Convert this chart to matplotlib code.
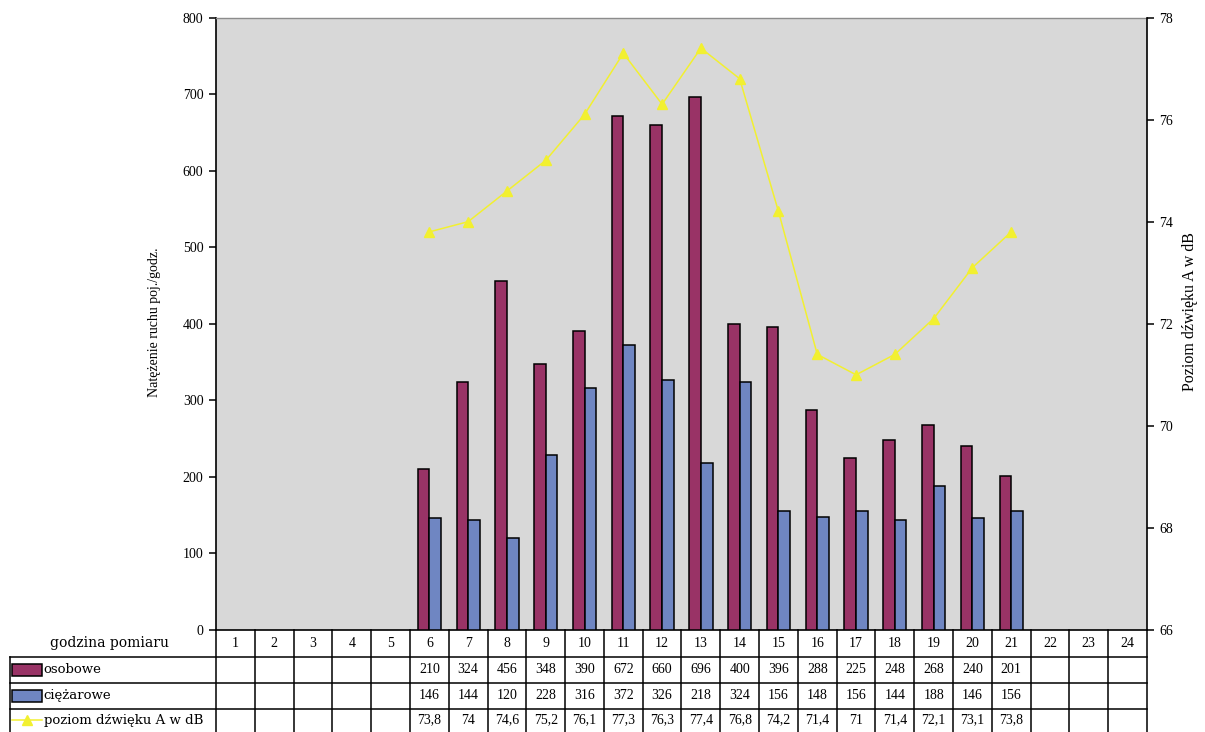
import matplotlib
matplotlib.use("Agg")
import matplotlib.pyplot as plt
from matplotlib.lines import Line2D
from matplotlib.patches import Rectangle

plt.rcParams['font.family'] = ['Liberation Serif', 'DejaVu Serif']

# godziny pomiaru i wyniki
hours = list(range(1, 25))
hours_meas = list(range(6, 22))
osobowe = [210, 324, 456, 348, 390, 672, 660, 696, 400, 396, 288, 225, 248, 268, 240, 201]
ciezarowe = [146, 144, 120, 228, 316, 372, 326, 218, 324, 156, 148, 156, 144, 188, 146, 156]
poziom_db = [73.8, 74, 74.6, 75.2, 76.1, 77.3, 76.3, 77.4, 76.8, 74.2, 71.4, 71, 71.4, 72.1, 73.1, 73.8]

row_names = ['osobowe', 'ciężarowe', 'poziom dźwięku A w dB']
c_os = '#993366'
c_ci = '#6F86C2'
c_db = '#F2F030'
wide_font = ['DejaVu Serif']

fig = plt.figure(figsize=(12.05, 7.32), dpi=100)
ax = fig.add_axes([0.17925, 0.13934, 0.77261, 0.83675])
ax.set_facecolor('#D8D8D8')

w = 0.3
ax.bar([h - w / 2 for h in hours_meas], osobowe, width=w, color=c_os,
       edgecolor='black', linewidth=1.1, zorder=3)
ax.bar([h + w / 2 for h in hours_meas], ciezarowe, width=w, color=c_ci,
       edgecolor='black', linewidth=1.1, zorder=3)

ax.set_xlim(0.5, 24.5)
ax.set_ylim(0, 800)
ax.set_yticks(range(0, 801, 100))
ax.set_xticks([])
ax.tick_params(axis='y', direction='out', length=5, width=1.1, pad=4, labelsize=10)
for s in ['left', 'bottom']:
    ax.spines[s].set_linewidth(1.2)
ax.spines['top'].set_color('#8C8C8C')
ax.spines['top'].set_linewidth(1.0)
ax.spines['right'].set_visible(False)

ax2 = ax.twinx()
ax2.plot(hours_meas, poziom_db, color=c_db, linewidth=1.1, marker='^',
         markersize=7, markeredgecolor=c_db, zorder=5)
ax2.set_ylim(66, 78)
ax2.set_yticks(range(66, 79, 2))
ax2.tick_params(axis='y', direction='out', length=5, width=1.1, pad=4, labelsize=10)
ax2.spines['right'].set_linewidth(1.2)
for s in ['left', 'top', 'bottom']:
    ax2.spines[s].set_visible(False)

fig.text(155 / 1205, 1 - 322 / 732, 'Natężenie ruchu poj./godz.', rotation=90,
         ha='center', va='center', fontsize=10)
fig.text(1190 / 1205, 1 - 312 / 732, 'Poziom dźwięku A w dB', rotation=90,
         ha='center', va='center', fontsize=11.5)

# tabela danych pod wykresem
tx = ax.get_xaxis_transform()
ta = ax.transAxes
row_lines = [-0.0441, -0.0865, -0.1282]
y_bottom = -0.1665
row_centers = [-0.0220, -0.0653, -0.1073, -0.1470]
x_left = -0.2213

for b in [h + 0.5 for h in [0] + hours]:
    ax.add_line(Line2D([b, b], [0, y_bottom], transform=tx, color='black',
                       linewidth=1.1, clip_on=False))
ax.add_line(Line2D([x_left, x_left], [row_lines[0], y_bottom], transform=ta,
                   color='black', linewidth=1.1, clip_on=False))
for y in row_lines:
    ax.add_line(Line2D([x_left, 1], [y, y], transform=ta, color='black',
                       linewidth=1.1, clip_on=False))

ax.text(-0.114, row_centers[0], 'godzina pomiaru', transform=ta, ha='center',
        va='center', fontsize=10, family=wide_font)
for h in hours:
    ax.text(h, row_centers[0], str(h), transform=tx, ha='center', va='center', fontsize=10)


def fmt(v):
    return f'{v:g}'.replace('.', ',')


for vals, yc in zip([osobowe, ciezarowe, poziom_db], row_centers[1:]):
    for h, v in zip(hours_meas, vals):
        ax.text(h, yc, fmt(v), transform=tx, ha='center', va='center', fontsize=10)

# klucze legendy w tabeli
kx0, kx1 = -0.2191, -0.1869
kh = 0.020
for col, yc in zip([c_os, c_ci], row_centers[1:3]):
    ax.add_patch(Rectangle((kx0, yc - kh / 2), kx1 - kx0, kh, transform=ta,
                           facecolor=col, edgecolor='black', linewidth=1.1, clip_on=False))
ax.add_line(Line2D([kx0, kx1], [row_centers[3]] * 2, transform=ta, color=c_db,
                   linewidth=1.1, clip_on=False))
ax.add_line(Line2D([(kx0 + kx1) / 2], [row_centers[3]], transform=ta, color=c_db,
                   marker='^', markersize=7, clip_on=False))
for name, yc in zip(row_names, row_centers[1:]):
    ax.text(kx1 + 0.002, yc, name, transform=ta, ha='left', va='center',
            fontsize=9.5, family=wide_font)

fig.savefig('out.png', dpi=100)
